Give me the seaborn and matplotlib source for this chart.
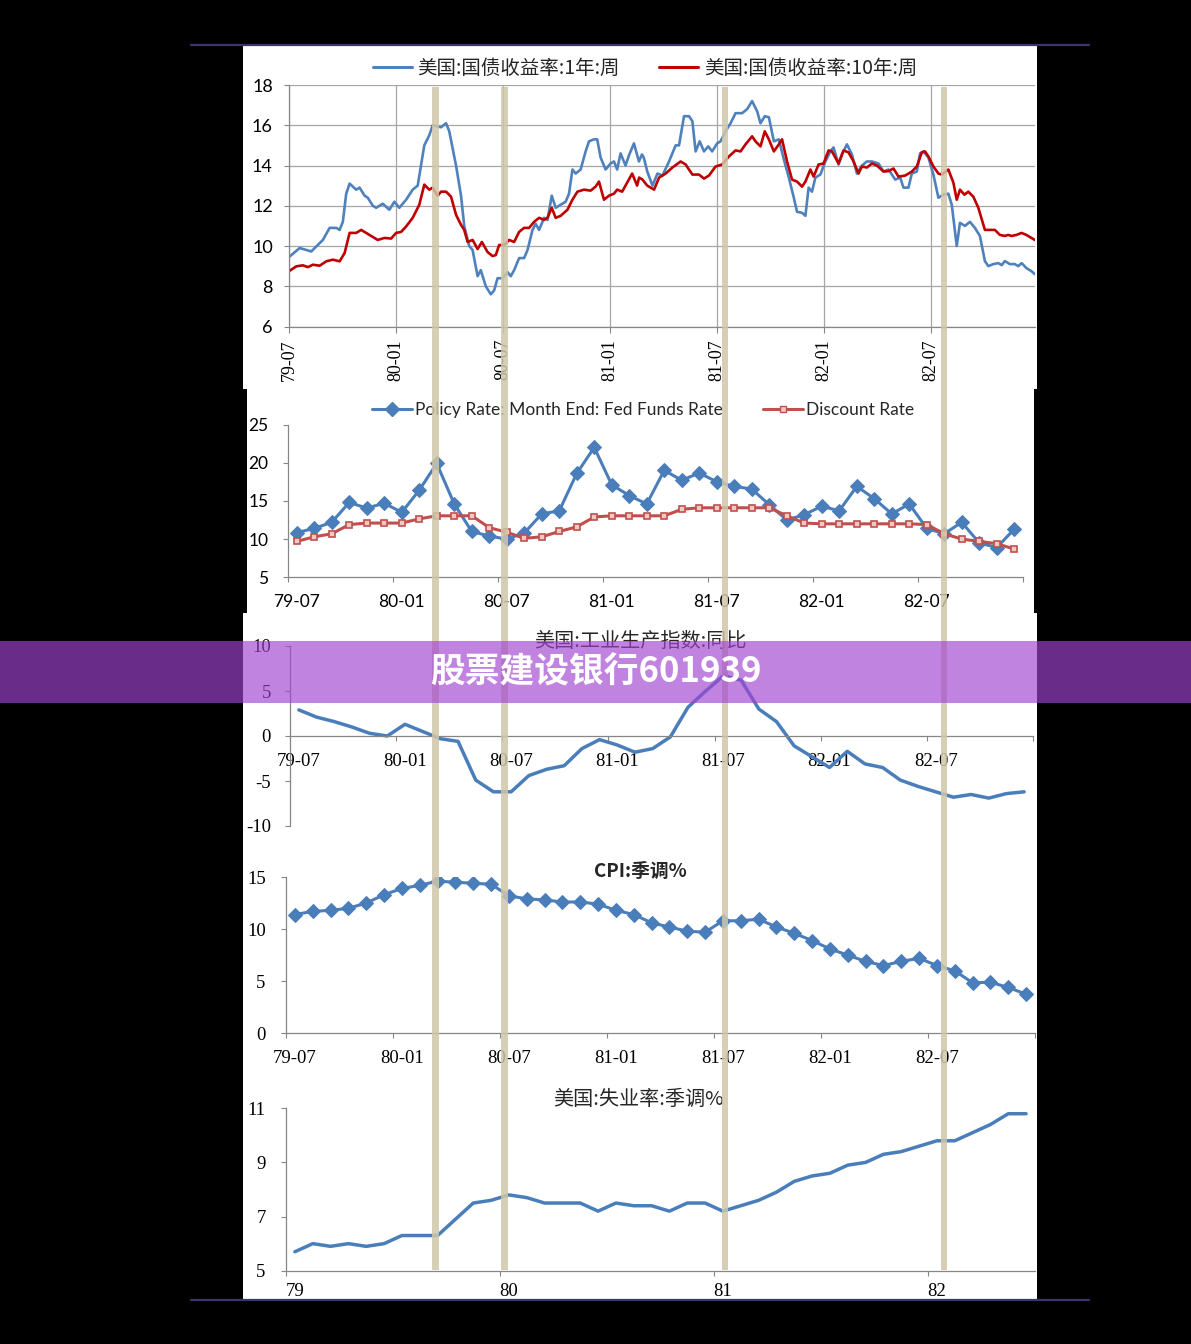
import numpy as np
import seaborn as sns
import matplotlib.pyplot as plt
from matplotlib.patches import Rectangle
from matplotlib.lines import Line2D
from matplotlib.font_manager import FontProperties

# ---------------- data ----------------
# panel 1: weekly treasury yields, x in months since 1979-07
t_1y = [0.04, 0.6, 1.25, 1.9, 2.28, 2.65, 2.84, 3.02, 3.21, 3.4,
        3.77, 3.96, 4.24, 4.42, 4.7, 4.89, 5.26, 5.63, 5.91, 6.19,
        6.57, 6.94, 7.22, 7.59, 7.87, 8.06, 8.53, 8.81, 8.99, 9.37,
        9.65, 9.83, 10.11, 10.3, 10.58, 10.76, 11.04, 11.32, 11.51, 11.7,
        11.98, 12.26, 12.44, 12.63, 12.91, 13.19, 13.38, 13.66, 13.84, 14.03,
        14.31, 14.5, 14.74, 14.96, 15.34, 15.52, 15.71, 15.9, 16.08, 16.36,
        16.64, 16.83, 17.11, 17.29, 17.48, 17.76, 18.04, 18.23, 18.41, 18.6,
        18.88, 19.07, 19.35, 19.63, 19.8, 19.9, 20.1, 20.39, 20.67, 20.95,
        21.32, 21.69, 21.88, 22.16, 22.44, 22.63, 22.81, 23.04, 23.28, 23.52,
        23.74, 24.02, 24.21, 24.49, 24.77, 25.05, 25.42, 25.7, 25.98, 26.26,
        26.45, 26.69, 26.92, 27.2, 27.48, 27.76, 28.04, 28.32, 28.5, 28.78,
        28.97, 29.15, 29.34, 29.53, 29.81, 30.09, 30.37, 30.55, 30.83, 31.02,
        31.3, 31.58, 31.86, 32.14, 32.42, 32.7, 33.07, 33.35, 33.63, 34.01,
        34.29, 34.47, 34.75, 34.94, 35.22, 35.4, 35.59, 35.87, 36.15, 36.43,
        36.71, 36.99, 37.18, 37.46, 37.64, 37.92, 38.2, 38.48, 38.76, 39.04,
        39.23, 39.51, 39.79, 39.98, 40.16, 40.44, 40.72, 40.91, 41.1, 41.37,
        41.65, 41.84]
yield_1y = [9.48, 9.9, 9.73, 10.3, 10.9, 10.9, 10.8, 11.2, 12.6, 13.1,
            12.8, 12.9, 12.5, 12.4, 12.0, 11.9, 12.1, 11.8, 12.2, 11.9,
            12.3, 12.8, 13.0, 15.0, 15.5, 16.0, 15.9, 16.1, 15.7, 14.0,
            12.5, 11.0, 10.0, 9.8, 8.5, 8.8, 8.0, 7.6, 7.8, 8.4,
            8.4, 8.7, 8.5, 8.8, 9.4, 9.4, 9.8, 10.8, 11.1, 10.8,
            11.4, 11.3, 12.5, 11.9, 12.1, 12.2, 12.6, 13.8, 13.6, 13.8,
            14.7, 15.2, 15.3, 15.3, 14.4, 13.8, 14.1, 14.2, 13.8, 14.6,
            14.0, 14.5, 15.1, 14.2, 14.55, 14.4, 13.7, 13.0, 13.6, 13.5,
            14.2, 15.0, 15.0, 16.45, 16.45, 16.2, 14.7, 15.2, 14.7, 14.95,
            14.7, 15.1, 15.2, 15.7, 16.1, 16.6, 16.6, 16.8, 17.2, 16.7,
            16.1, 16.45, 16.4, 15.2, 15.3, 14.3, 13.4, 12.4, 11.7, 11.65,
            11.5, 12.9, 12.7, 13.4, 13.55, 14.2, 14.7, 14.9, 14.05, 14.55,
            15.05, 14.55, 13.6, 14.0, 14.2, 14.2, 14.1, 13.7, 13.8, 13.3,
            13.4, 12.9, 12.9, 13.6, 13.7, 14.6, 14.7, 14.4, 13.55, 12.4,
            12.55, 12.6, 12.05, 10.0, 11.15, 11.0, 11.2, 10.9, 10.5, 9.25,
            9.0, 9.1, 9.15, 9.05, 9.25, 9.1, 9.1, 9.0, 9.15, 8.9,
            8.75, 8.6]
t_10y = [0.04, 0.41, 0.78, 1.06, 1.34, 1.72, 2.09, 2.46, 2.84, 3.12,
         3.4, 3.77, 4.05, 4.33, 4.61, 4.98, 5.35, 5.73, 6.01, 6.29,
         6.57, 6.94, 7.31, 7.59, 7.87, 8.06, 8.34, 8.53, 8.81, 9.09,
         9.37, 9.65, 9.83, 10.02, 10.3, 10.58, 10.82, 11.14, 11.42, 11.6,
         11.79, 12.07, 12.35, 12.63, 12.91, 13.19, 13.47, 13.75, 14.03, 14.31,
         14.5, 14.74, 14.96, 15.24, 15.62, 15.9, 16.18, 16.55, 16.92, 17.2,
         17.39, 17.67, 17.95, 18.23, 18.41, 18.69, 19.25, 19.53, 19.64, 19.83,
         20.1, 20.48, 20.76, 21.13, 21.51, 21.97, 22.25, 22.63, 23.0, 23.28,
         23.56, 23.93, 24.3, 24.68, 25.05, 25.33, 25.61, 25.98, 26.17, 26.45,
         26.69, 26.92, 27.2, 27.48, 27.66, 27.94, 28.22, 28.5, 28.78, 28.97,
         29.25, 29.43, 29.71, 29.99, 30.27, 30.46, 30.83, 31.11, 31.39, 31.67,
         31.95, 32.14, 32.42, 32.7, 32.98, 33.35, 33.63, 33.91, 34.19, 34.57,
         34.94, 35.22, 35.5, 35.68, 35.87, 36.15, 36.43, 36.62, 36.99, 37.27,
         37.46, 37.64, 37.89, 38.11, 38.39, 38.67, 39.04, 39.32, 39.6, 39.88,
         40.16, 40.35, 40.53, 40.81, 41.09, 41.37, 41.65, 41.84]
yield_10y = [8.77, 8.99, 9.04, 8.95, 9.07, 9.02, 9.24, 9.32, 9.24, 9.65,
             10.65, 10.65, 10.8, 10.65, 10.5, 10.3, 10.4, 10.37, 10.65, 10.7,
             10.97, 11.4, 12.05, 13.05, 12.8, 12.9, 12.5, 12.7, 12.7, 12.45,
             11.55, 11.05, 10.8, 10.2, 10.3, 9.85, 10.2, 9.7, 9.5, 9.55,
             10.05, 10.05, 10.3, 10.2, 10.7, 10.9, 10.9, 11.2, 11.4, 11.3,
             11.4, 11.9, 11.4, 11.5, 11.8, 12.3, 12.7, 12.8, 12.75, 12.95,
             13.2, 12.3, 12.5, 12.6, 12.8, 12.7, 13.6, 13.0, 13.4, 13.3,
             13.0, 12.8, 13.4, 13.6, 13.9, 14.2, 14.05, 13.55, 13.55, 13.35,
             13.5, 13.95, 14.05, 14.45, 14.75, 14.7, 15.05, 15.45, 15.2, 14.95,
             15.7, 15.3, 14.7, 15.05, 15.3, 14.2, 13.3, 13.2, 12.95, 13.2,
             13.8, 13.45, 14.05, 14.1, 14.75, 14.7, 14.1, 14.75, 14.65, 14.2,
             13.6, 13.95, 13.9, 14.1, 14.0, 13.7, 13.72, 13.85, 13.45, 13.5,
             13.7, 13.95, 14.65, 14.7, 14.45, 13.95, 13.6, 13.55, 13.8, 13.15,
             12.3, 12.8, 12.55, 12.7, 12.45, 11.9, 10.8, 10.8, 10.8, 10.55,
             10.5, 10.55, 10.5, 10.55, 10.65, 10.55, 10.4, 10.3]

# monthly panels, 1979-07 .. 1982-12
months = [f"{y:02d}-{m:02d}" for y in range(79, 83) for m in range(1, 13)][6:]
fed_funds = [10.85, 11.4, 12.2, 14.8, 14.05, 14.7, 13.5, 16.4, 19.9, 14.6,
             11.0, 10.4, 10.0, 10.8, 13.3, 13.7, 18.6, 22.0, 17.1, 15.7,
             14.6, 19.0, 17.7, 18.65, 17.5, 16.9, 16.55, 14.5, 12.5, 13.2,
             14.3, 13.7, 16.9, 15.3, 13.3, 14.6, 11.4, 10.7, 12.2, 9.5,
             8.9, 11.3]
discount = [9.7, 10.3, 10.7, 11.9, 12.1, 12.1, 12.1, 12.65, 13.05, 13.05,
            13.05, 11.5, 10.9, 10.1, 10.3, 11.0, 11.6, 12.9, 13.05, 13.05,
            13.05, 13.05, 13.9, 14.1, 14.1, 14.1, 14.1, 14.1, 13.05, 12.1,
            12.0, 12.0, 12.0, 12.0, 12.0, 12.0, 11.9, 10.7, 10.0, 9.7,
            9.4, 8.7]
ip_yoy = [2.9, 2.1, 1.6, 1.0, 0.3, 0.0, 1.3, 0.5, -0.3, -0.6,
          -4.9, -6.2, -6.2, -4.4, -3.7, -3.3, -1.4, -0.4, -1.0, -1.8,
          -1.4, -0.1, 3.2, 5.0, 6.7, 6.2, 3.0, 1.6, -1.1, -2.3,
          -3.5, -1.7, -3.1, -3.5, -4.9, -5.6, -6.2, -6.8, -6.5, -6.9,
          -6.4, -6.2]
cpi = [11.4, 11.7, 11.8, 12.0, 12.5, 13.3, 13.9, 14.2, 14.6, 14.5,
       14.4, 14.3, 13.2, 12.9, 12.8, 12.6, 12.6, 12.4, 11.8, 11.4,
       10.6, 10.2, 9.8, 9.7, 10.8, 10.8, 10.95, 10.2, 9.6, 8.9,
       8.1, 7.5, 6.9, 6.5, 6.9, 7.2, 6.5, 6.0, 4.85, 4.9,
       4.4, 3.75]
unemp = [5.7, 6.0, 5.9, 6.0, 5.9, 6.0, 6.3, 6.3, 6.3, 6.9,
         7.5, 7.6, 7.8, 7.7, 7.5, 7.5, 7.5, 7.2, 7.5, 7.4,
         7.4, 7.2, 7.5, 7.5, 7.2, 7.4, 7.6, 7.9, 8.3, 8.5,
         8.6, 8.9, 9.0, 9.3, 9.4, 9.6, 9.8, 9.8, 10.1, 10.4,
         10.8, 10.8]

half_year_labels = ['79-07', '80-01', '80-07', '81-01', '81-07', '82-01', '82-07']
year_labels = ['79', '80', '81', '82']

# ---------------- style ----------------
sns.set_style('white')
CJK = ['Noto Sans CJK SC', 'DejaVu Sans']
plt.rcParams['font.family'] = CJK
plt.rcParams['axes.unicode_minus'] = False
GRAY = '#868686'
BLUE = '#4a7ebb'
BLUE1 = '#4f81bd'
RED1 = '#c00000'
RED2 = '#c0504d'

W, H = 1191, 1344
fig = plt.figure(figsize=(W / 100, H / 100), dpi=100, facecolor='black')


def px_axes(x0, y0, x1, y1):
    ax = fig.add_axes([x0 / W, 1 - y1 / H, (x1 - x0) / W, (y1 - y0) / H])
    ax.set_facecolor('none')
    for s in ['top', 'right']:
        ax.spines[s].set_visible(False)
    for s in ['left', 'bottom']:
        ax.spines[s].set_color(GRAY)
        ax.spines[s].set_linewidth(0.9)
    return ax


def px_rect(x0, y0, x1, y1, **kw):
    fig.add_artist(Rectangle((x0 / W, 1 - y1 / H), (x1 - x0) / W, (y1 - y0) / H,
                             transform=fig.transFigure, **kw))


def yaxis_style(ax, ticks, fam, size, pad):
    ax.set_yticks(ticks)
    ax.tick_params(axis='y', left=True, length=3.6, width=0.8, color=GRAY,
                   pad=pad, labelsize=size, labelfontfamily=fam, labelcolor='black')


def cat_xaxis(ax, labels, step, fam, size, pad):
    ax.set_xlim(-0.5, 41.5)
    ax.set_xticks(np.arange(0, step * len(labels), step))
    ax.set_xticklabels(labels)
    ax.set_xticks(np.arange(-0.5, 42, step), minor=True)
    ax.tick_params(axis='x', which='major', bottom=True, length=0, pad=pad,
                   labelsize=size, labelfontfamily=fam, labelcolor='black')
    ax.tick_params(axis='x', which='minor', bottom=True, length=3.6, width=0.8, color=GRAY)
    ax.set_xlabel('')
    ax.set_ylabel('')


# white panels behind the charts
px_rect(243, 46, 1037, 389, facecolor='white', edgecolor='none', zorder=-2)
px_rect(247, 388, 1034, 614, facecolor='white', edgecolor='none', zorder=-2)
px_rect(243, 613, 1037, 1300, facecolor='white', edgecolor='none', zorder=-2)

x_m = np.arange(len(months))

# ---- panel 1: treasury yields ----
ax1 = px_axes(289, 85, 1035, 326.5)
sns.lineplot(x=t_1y, y=yield_1y, ax=ax1, color=BLUE1, lw=1.9, errorbar=None)
sns.lineplot(x=t_10y, y=yield_10y, ax=ax1, color=RED1, lw=1.9, errorbar=None)
ax1.set_xlim(0, 41.85)
ax1.set_ylim(6, 18)
yaxis_style(ax1, range(6, 19, 2), 'Lato', 13, 8)
ax1.set_xticks(range(0, 37, 6))
ax1.set_xticklabels(half_year_labels, rotation=90)
ax1.tick_params(axis='x', bottom=True, length=4, width=0.8, color=GRAY, pad=5,
                labelsize=13, labelfontfamily='Liberation Serif', labelcolor='black')
ax1.grid(True, color='#a6a6a6', lw=0.9)
ax1.set_axisbelow(True)
ax1.set_xlabel('')
ax1.set_ylabel('')
fig.legend(handles=[Line2D([], [], color=BLUE1, lw=2.2), Line2D([], [], color=RED1, lw=2.2)],
           labels=['美国:国债收益率:1年:周', '美国:国债收益率:10年:周'],
           loc='center', bbox_to_anchor=(645 / W, 1 - 68 / H), ncol=2, frameon=False,
           prop=FontProperties(family=CJK, size=14), handlelength=2.0,
           handletextpad=0.3, columnspacing=2.0)

# ---- panel 2: policy rates ----
ax2 = px_axes(288, 424.5, 1023, 577.3)
sns.lineplot(x=x_m, y=fed_funds, ax=ax2, color=BLUE, lw=2.2, marker='D', markersize=7,
             markeredgecolor=BLUE, errorbar=None)
sns.lineplot(x=x_m, y=discount, ax=ax2, color=RED2, lw=2.2, marker='s', markersize=5,
             markerfacecolor='#f0c8c6', markeredgecolor=RED2, markeredgewidth=1.2, errorbar=None)
ax2.set_ylim(5, 25)
yaxis_style(ax2, range(5, 26, 5), 'Lato', 12.5, 10.5)
cat_xaxis(ax2, half_year_labels, 6, 'Lato', 12.5, 12)
fig.legend(handles=[Line2D([], [], color=BLUE, lw=2.2, marker='D', ms=7),
                    Line2D([], [], color=RED2, lw=2.2, marker='s', ms=5,
                           mfc='#f0c8c6', mec=RED2)],
           labels=['Policy Rate: Month End: Fed Funds Rate', 'Discount Rate'],
           loc='center', bbox_to_anchor=(643 / W, 1 - 410 / H), ncol=2, frameon=False,
           prop=FontProperties(family='Lato', size=12.5), handlelength=2.3,
           handletextpad=0.2, columnspacing=2.3)

# ---- panel 3: industrial production ----
ax3 = px_axes(290, 646, 1033, 826)
sns.lineplot(x=x_m, y=ip_yoy, ax=ax3, color=BLUE, lw=2.5, errorbar=None)
ax3.set_ylim(-10, 10)
ax3.spines['bottom'].set_position(('data', 0))
yaxis_style(ax3, range(-10, 11, 5), 'Liberation Serif', 13.5, 10)
cat_xaxis(ax3, half_year_labels, 6, 'Liberation Serif', 13.5, 12)
fig.text(640 / W, 1 - 641 / H, '美国:工业生产指数:同比', ha='center', va='center',
         fontsize=14.5, family=CJK)

# ---- panel 4: CPI ----
ax4 = px_axes(286, 877, 1035, 1033.3)
sns.lineplot(x=x_m, y=cpi, ax=ax4, color=BLUE, lw=2.2, marker='D', markersize=7.5,
             markeredgecolor=BLUE, errorbar=None)
ax4.set_ylim(0, 15)
yaxis_style(ax4, range(0, 16, 5), 'Liberation Serif', 13.5, 11)
cat_xaxis(ax4, half_year_labels, 6, 'Liberation Serif', 13.5, 12)
fig.text(640 / W, 1 - 871 / H, 'CPI:季调%', ha='center', va='center',
         fontsize=13.5, fontweight='bold', family=CJK)

# ---- panel 5: unemployment ----
ax5 = px_axes(286, 1108.3, 1035, 1270.7)
sns.lineplot(x=x_m, y=unemp, ax=ax5, color=BLUE, lw=2.5, errorbar=None)
ax5.set_ylim(5, 11)
yaxis_style(ax5, range(5, 12, 2), 'Liberation Serif', 13.5, 11)
cat_xaxis(ax5, year_labels, 12, 'Liberation Serif', 13.5, 9)
fig.text(638 / W, 1 - 1099 / H, '美国:失业率:季调%', ha='center', va='center',
         fontsize=14.5, family=CJK)

# recession-style vertical bands across all panels
for x0, x1 in [(432, 439), (501, 508), (722, 728), (941, 947)]:
    px_rect(x0, 87, x1, 1270, facecolor='#cfc6a8', edgecolor='none', alpha=0.85, zorder=6)

# frame lines top and bottom
for yy in (45, 1300):
    fig.add_artist(Line2D([191 / W, 1089 / W], [1 - yy / H, 1 - yy / H],
                          transform=fig.transFigure, color='#3b3668', lw=1.6, zorder=8))

# purple banner
px_rect(0, 641, W, 703, facecolor='#a243d1', edgecolor='none', alpha=0.66, zorder=9)
fig.text(596 / W, 1 - 672 / H, '股票建设银行601939', ha='center', va='center',
         fontsize=25, fontweight='bold', color='white', family=CJK, zorder=10)

fig.savefig('out.png', dpi=100, facecolor='black')
